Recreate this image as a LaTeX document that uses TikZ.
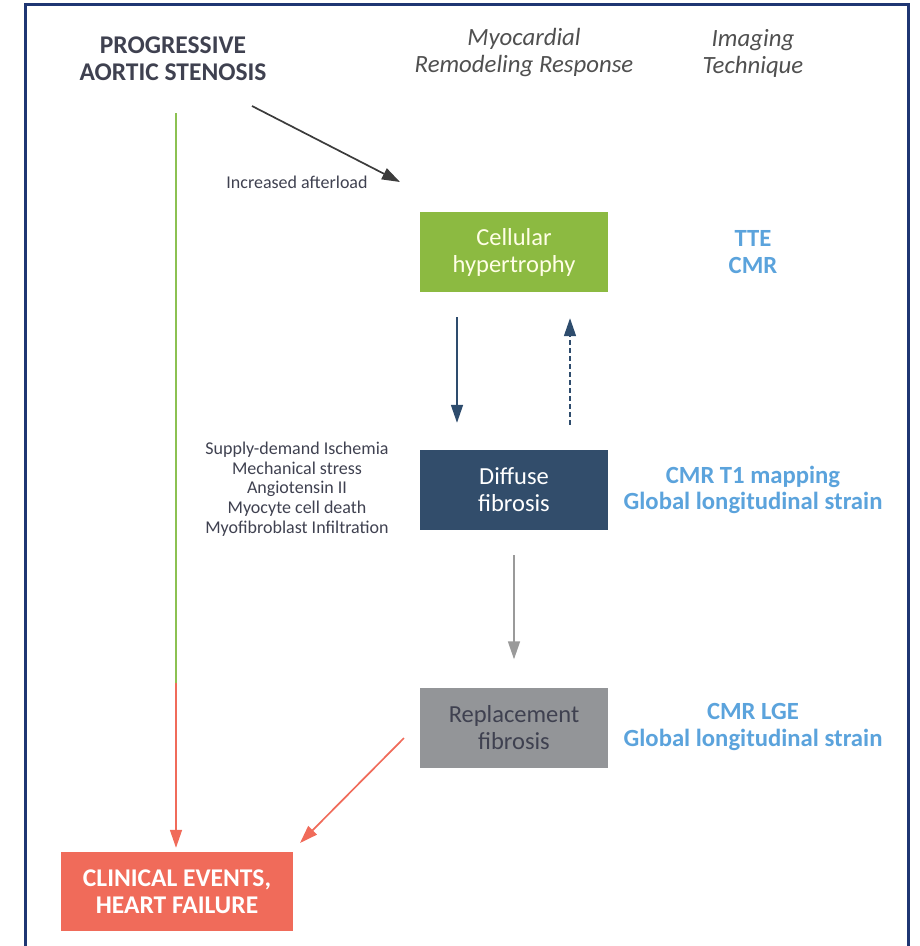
\documentclass[tikz,border=0pt]{standalone}
\usepackage{fontspec}
\setmainfont{Carlito}
\usetikzlibrary{arrows.meta}

\definecolor{framenavy}{HTML}{1F3673}
\definecolor{titlegray}{HTML}{3F4150}
\definecolor{headgray}{HTML}{505050}
\definecolor{boxgreen}{HTML}{8CBA41}
\definecolor{boxnavy}{HTML}{324D6B}
\definecolor{boxgray}{HTML}{939598}
\definecolor{boxred}{HTML}{F06B5A}
\definecolor{techblue}{HTML}{5BA3DC}
\definecolor{arrownavy}{HTML}{2E4C6D}
\definecolor{arrowgray}{HTML}{9A9A9A}
\definecolor{arrowdark}{HTML}{3C3C3C}
\definecolor{linegreen}{HTML}{8CC152}

\begin{document}
\begin{tikzpicture}[x=1pt, y=-1pt,
	bigtxt/.style={font=\fontsize{24.5}{27}\selectfont, align=center},
	boldtxt/.style={font=\fontsize{25.5}{27}\selectfont\bfseries, align=center},
	smalltxt/.style={font=\fontsize{18}{19.6}\selectfont, align=center, text=titlegray},
	stage/.style={bigtxt, minimum width=188pt, minimum height=80pt, inner sep=0pt},
	tech/.style={bigtxt, font=\fontsize{24.7}{26.5}\selectfont\bfseries, text=techblue},
	link/.style={line width=1.7pt, -{Triangle[length=18pt, width=12pt]}}]
	\useasboundingbox (0,0) rectangle (920,946);
	\draw[framenavy, line width=3pt] (25,950) -- (25,4) -- (908,4) -- (908,950);
	% column heads
	\node[boldtxt, text=titlegray] (title) at (173,59) {PROGRESSIVE\\AORTIC STENOSIS};
	\node[bigtxt, font=\fontsize{24.8}{27}\selectfont\itshape, text=headgray] (remhead) at (524,53) {Myocardial\\Remodeling Response};
	\node[bigtxt, font=\fontsize{24.8}{27}\selectfont\itshape, text=headgray] (imghead) at (753,53) {Imaging\\Technique};
	% stages
	\node[stage, fill=boxgreen, text=white!90!yellow] (cell) at (514,252) {Cellular\\hypertrophy};
	\node[stage, fill=boxnavy, text=white] (diffuse) at (514,490) {Diffuse\\fibrosis};
	\node[stage, fill=boxgray, text=titlegray] (repl) at (514,727.5) {Replacement\\fibrosis};
	\node[stage, boldtxt, fill=boxred, text=white, minimum width=232pt, minimum height=79pt] (clin) at (177,891.5) {CLINICAL EVENTS,\\HEART FAILURE};
	% imaging techniques
	\node[tech] (tcell) at (753,252) {TTE\\CMR};
	\node[tech] (tdiff) at (753,490) {CMR T1 mapping\\Global longitudinal strain};
	\node[tech] (trepl) at (753,727) {CMR LGE\\Global longitudinal strain};
	% causes
	\node[smalltxt] (afterload) at (297,182) {Increased afterload};
	\node[smalltxt] (causes) at (297,489) {Supply-demand Ischemia\\Mechanical stress\\Angiotensin II\\Myocyte cell death\\Myofibroblast Infiltration};
	\coordinate (as1) at (252,106); \coordinate (as2) at (400,182);
	\coordinate (gs) at (176,113); \coordinate (gr) at (176,683);
	\coordinate (rs) at (404,738); \coordinate (re) at (300,843);
	% connectors
	\draw[link, arrowdark] (as1) -- (as2);
	\draw[link, arrownavy, shorten <=25pt, shorten >=27pt] ([xshift=-57pt]cell.south) -- ([xshift=-57pt]diffuse.north);
	\draw[link, arrownavy, dashed, dash pattern=on 5pt off 3pt, shorten <=25pt, shorten >=26pt] ([xshift=56pt]diffuse.north) -- ([xshift=56pt]cell.south);
	\draw[link, arrowgray, shorten <=25pt, shorten >=28pt] (diffuse.south) -- (repl.north);
	\draw[linegreen, line width=1.6pt] (gs) -- (gr);
	\draw[link, boxred, shorten >=4pt] (gr) -- (gr |- clin.north);
	\draw[link, boxred] (rs) -- (re);
\end{tikzpicture}
\end{document}
